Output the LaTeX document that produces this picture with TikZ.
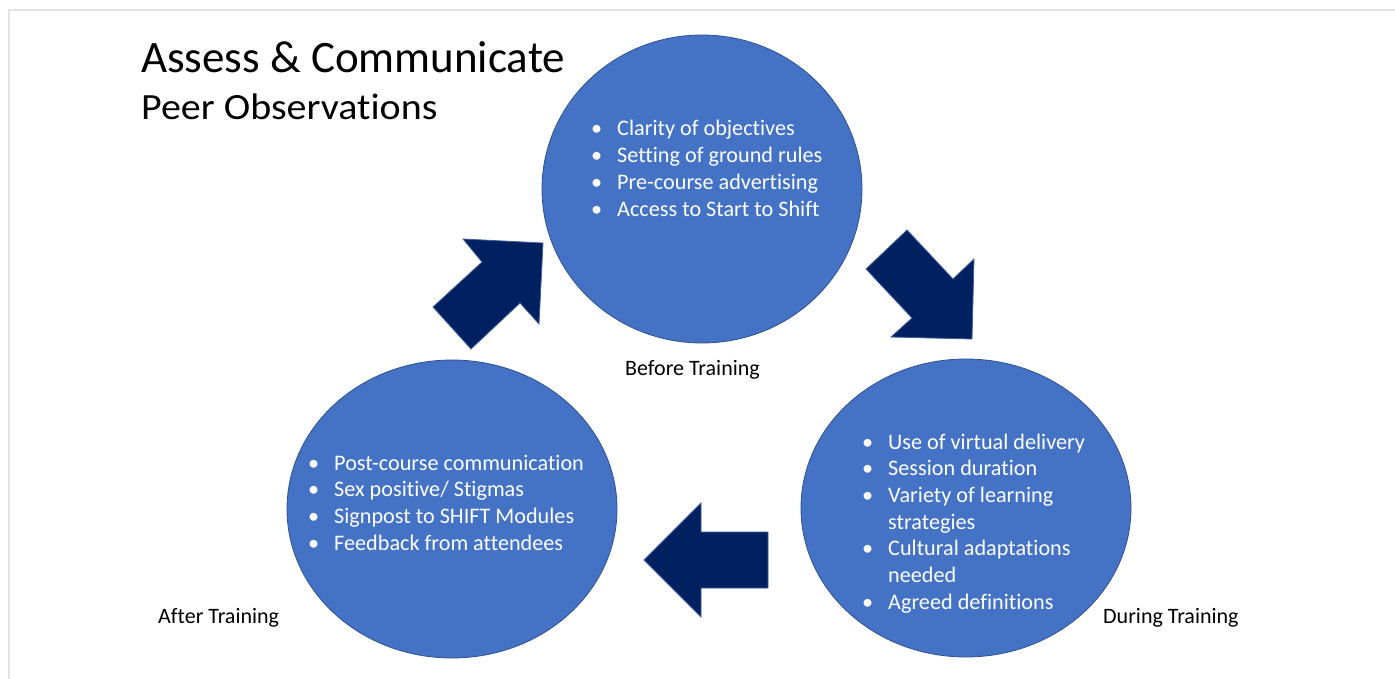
\documentclass[tikz,border=0pt]{standalone}
\usepackage{fontspec}
\setmainfont{Carlito}[Ligatures={NoCommon,NoRequired,NoContextual}]
\usetikzlibrary{shapes.geometric}
\definecolor{circblue}{HTML}{4472C4}
\definecolor{circedge}{HTML}{2F528F}
\definecolor{arrowblue}{HTML}{002060}
\definecolor{arrowedge}{HTML}{41609A}
\definecolor{framegray}{HTML}{E3E3E3}
\newcommand{\bul}{\makebox[26pt][l]{•}}
\tikzset{
  stagecircle/.style={ellipse, fill=circblue, draw=circedge, line width=0.8pt, inner sep=0pt},
  blockarrow/.style={fill=arrowblue, draw=arrowedge, line width=0.8pt, line join=miter},
  bullettext/.style={anchor=base west, inner sep=0pt, text=white, font=\fontsize{22.2}{26.7}\selectfont},
  stagelabel/.style={anchor=base west, inner sep=0pt, text=black, font=\fontsize{22}{26}\selectfont},
}
\begin{document}
\begin{tikzpicture}[x=1pt,y=-1pt]
\useasboundingbox[fill=white] (0,0) rectangle (1395,679);
% frame lines
\draw[framegray, line width=1.5pt] (9,679) -- (9,10) -- (1395,10);
% title
\node[anchor=base west, inner sep=0pt, font=\fontsize{45}{50}\selectfont] (title) at (141,73) {Assess \& Communicate};
\node[anchor=base west, inner sep=0pt, font=\fontsize{37}{40}\selectfont] (subtitle) at (141,120) {\scalebox{1.08}[1]{Peer Observations}};
% circles
\node[stagecircle, minimum width=320pt, minimum height=308pt] (before) at (702,189) {};
\node[stagecircle, minimum width=330pt, minimum height=298pt] (during) at (966,508) {};
\node[stagecircle, minimum width=330pt, minimum height=298pt] (after) at (452,509) {};
% arrows
\draw[blockarrow] (907,230) -- (953,279) -- (974,259) -- (972,339) -- (891,337) -- (912,318) -- (866,269) -- cycle;
\draw[blockarrow] (433,307) -- (482,262) -- (463,239) -- (543,243) -- (539,324) -- (520,303) -- (471,349) -- cycle;
\draw[blockarrow] (768,532) -- (701,532) -- (701,503) -- (644,560) -- (701,617) -- (701,588) -- (768,588) -- cycle;
% bullet lists
\node[bullettext] (beforelist) at (591,136) {\begin{tabular}[t]{@{}l@{}}
\bul Clarity of objectives\\
\bul Setting of ground rules\\
\bul Pre-course advertising\\
\bul Access to Start to Shift
\end{tabular}};
\node[bullettext] (duringlist) at (862,449) {\begin{tabular}[t]{@{}l@{}}
\bul Use of virtual delivery\\
\bul Session duration\\
\bul Variety of learning\\
\makebox[26pt]{}strategies\\
\bul Cultural adaptations\\
\makebox[26pt]{}needed\\
\bul Agreed definitions
\end{tabular}};
\node[bullettext] (afterlist) at (308,470) {\begin{tabular}[t]{@{}l@{}}
\bul Post-course communication\\
\bul Sex positive/ Stigmas\\
\bul Signpost to SHIFT Modules\\
\bul Feedback from attendees
\end{tabular}};
% labels
\node[stagelabel] (beforelabel) at (625,375) {Before Training};
\node[stagelabel] (afterlabel) at (158,623) {After Training};
\node[stagelabel] (duringlabel) at (1103,623) {During Training};
\end{tikzpicture}
\end{document}
